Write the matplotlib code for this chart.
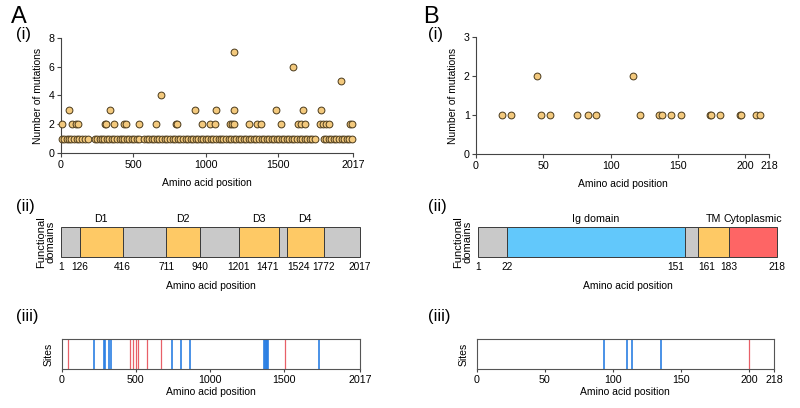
import matplotlib
matplotlib.use("Agg")
import matplotlib.pyplot as plt
import numpy as np

plt.rcParams["font.family"] = ["Liberation Sans", "DejaVu Sans"]
plt.rcParams["font.size"] = 7.5

# ---- Panel A data ----
A_LEN = 2017
a_pos_1 = [5, 20, 38, 55, 72, 90, 108, 126, 145, 165, 186, 232, 250, 266, 284, 300, 318, 334, 350,
           368, 386, 404, 420, 438, 455, 470, 488, 505, 522, 540, 576, 592, 610, 628, 645, 662,
           680, 700, 718, 735, 752, 770, 790, 808, 825, 842, 860, 878, 895, 912, 930, 948, 965,
           982, 1000, 1018, 1035, 1052, 1070, 1088, 1105, 1122, 1140, 1158, 1175, 1192, 1210,
           1228, 1245, 1262, 1280, 1298, 1315, 1332, 1350, 1368, 1385, 1402, 1420, 1438, 1455,
           1472, 1490, 1508, 1525, 1542, 1560, 1578, 1595, 1612, 1630, 1648, 1665, 1682, 1700,
           1718, 1735, 1752, 1815, 1832, 1850, 1868, 1885, 1902, 1920, 1938, 1955, 1972, 1990, 2008]
a_pos_2 = [8, 78, 106, 120, 302, 311, 368, 433, 448, 538, 654, 793, 802, 974, 1027, 1064,
           1168, 1182, 1198, 1301, 1357, 1382, 1518, 1640, 1659, 1686, 1792, 1808, 1827, 1854,
           1997, 2012]
a_pos_3 = [55, 335, 925, 1073, 1198, 1483, 1672, 1799]
a_pos_high = [693, 1937, 1601, 1198]
a_cnt_high = [4, 5, 6, 7]

a_dom_bounds = [1, 126, 416, 711, 940, 1201, 1471, 1524, 1772, 2017]
a_dom_names = ["", "D1", "", "D2", "", "D3", "", "D4", ""]
a_dom_kind = ["other", "dom", "other", "dom", "other", "dom", "other", "dom", "other"]

a_sites_blue = [218, 288, 295, 322, 333, 743, 806, 867, 1370, 1375, 1380, 1385, 1390, 1395, 1741]
a_sites_red = [43, 462, 484, 500, 516, 574, 669, 1507]

# ---- Panel B data ----
B_LEN = 218
b_pos = [19, 26, 45, 48, 55, 75, 83, 89, 117, 122, 136, 138, 145, 152, 174, 175, 181, 196, 197, 208, 211]
b_cnt = [1, 1, 2, 1, 1, 1, 1, 1, 2, 1, 1, 1, 1, 1, 1, 1, 1, 1, 1, 1, 1]

b_dom_bounds = [1, 22, 151, 161, 183, 218]
b_dom_names = ["", "Ig domain", "", "TM", "Cytoplasmic"]
b_dom_kind = ["other", "ig", "other", "tm", "cyto"]

b_sites_blue = [93, 110, 114, 135]
b_sites_red = [200]

DOM_COLORS = {"other": "#c9c9c9", "dom": "#fec965", "ig": "#62c8fb", "tm": "#fec965", "cyto": "#fe6565"}
DOT_FACE = "#f3c97d"
DOT_EDGE = "#4a3a1c"
BLUE = "#2b7fe3"
RED = "#e86068"
AXC = "#444444"
TICK_FS = 7.3
# boundary labels that sit too close to a neighbour get pushed sideways
LABEL_ALIGN = {1471: "right", 1524: "left", 151: "right", 161: "left"}

fig = plt.figure(figsize=(8.0, 4.08), dpi=100)


def style_scatter_ax(ax):
    for s in ["top", "right"]:
        ax.spines[s].set_visible(False)
    for s in ["left", "bottom"]:
        ax.spines[s].set_color(AXC)
        ax.spines[s].set_linewidth(0.8)
    ax.tick_params(length=3, width=0.8, color=AXC, pad=1.5, labelsize=TICK_FS + 0.4)


def scatter_panel(rect, xs, ys, length, xticks, ymax, yticks):
    ax = fig.add_axes(rect)
    ax.scatter(xs, ys, s=24, color=DOT_FACE, edgecolor=DOT_EDGE, linewidth=0.7, zorder=3, clip_on=False)
    ax.set_xlim(0, length)
    ax.set_ylim(0, ymax)
    ax.set_xticks(xticks)
    ax.set_yticks(yticks)
    ax.set_xlabel("Amino acid position", labelpad=6)
    ax.set_ylabel("Number of mutations", labelpad=4)
    style_scatter_ax(ax)
    return ax


def domain_panel(rect, bounds, names, kinds):
    ax = fig.add_axes(rect)
    starts = bounds[:-1]
    widths = np.diff(bounds)
    ax.barh(0.5, widths, left=starts, height=1.0, color=[DOM_COLORS[k] for k in kinds],
            edgecolor="#3a3a3a", linewidth=0.7, clip_on=False)
    for st, w, nm in zip(starts, widths, names):
        if nm:
            ax.text(st + w / 2, 1.1, nm, ha="center", va="bottom", fontsize=7.7)
    ax.set_xlim(bounds[0], bounds[-1])
    ax.set_ylim(0, 1)
    ax.set_xticks(bounds)
    labels = ax.set_xticklabels([str(b) for b in bounds])
    for b, lab in zip(bounds, labels):
        if b in LABEL_ALIGN:
            lab.set_ha(LABEL_ALIGN[b])
    ax.tick_params(axis="x", length=0, pad=4, labelsize=TICK_FS)
    ax.set_yticks([])
    for s in ax.spines.values():
        s.set_visible(False)
    ax.set_xlabel("Amino acid position", labelpad=6)
    ax.set_ylabel("Functional\ndomains", labelpad=4, linespacing=0.9, fontsize=8)
    return ax


def sites_panel(rect, blue, red, length, xticks):
    ax = fig.add_axes(rect)
    ax.vlines(blue, 0, 1, color=BLUE, linewidth=1.2)
    ax.vlines(red, 0, 1, color=RED, linewidth=0.9)
    ax.set_xlim(0, length)
    ax.set_ylim(0, 1)
    ax.set_xticks(xticks)
    ax.set_yticks([])
    for s in ax.spines.values():
        s.set_color("#555555")
        s.set_linewidth(0.8)
    ax.tick_params(axis="x", length=2.5, width=0.8, color=AXC, pad=2, labelsize=TICK_FS + 0.4)
    ax.set_xlabel("Amino acid position", labelpad=1)
    ax.set_ylabel("Sites", labelpad=6)
    return ax


# Panel A
a_x = a_pos_1 + a_pos_2 + a_pos_3 + a_pos_high
a_y = [1] * len(a_pos_1) + [2] * len(a_pos_2) + [3] * len(a_pos_3) + a_cnt_high
scatter_panel([0.0763, 0.6243, 0.3650, 0.2833], a_x, a_y, A_LEN, [0, 500, 1000, 1500, 2017], 8, [0, 2, 4, 6, 8])
domain_panel([0.0763, 0.3708, 0.3737, 0.0736], a_dom_bounds, a_dom_names, a_dom_kind)
sites_panel([0.0771, 0.0956, 0.3729, 0.0728], a_sites_blue, a_sites_red, A_LEN, [0, 500, 1000, 1500, 2017])

# Panel B
scatter_panel([0.5950, 0.6218, 0.3667, 0.2868], b_pos, b_cnt, B_LEN, [0, 50, 100, 150, 200, 218], 3, [0, 1, 2, 3])
domain_panel([0.5979, 0.3708, 0.3730, 0.0736], b_dom_bounds, b_dom_names, b_dom_kind)
sites_panel([0.5959, 0.0956, 0.3716, 0.0728], b_sites_blue, b_sites_red, B_LEN, [0, 50, 100, 150, 200, 218])

# panel letters and sub-labels
fig.text(11 / 800, 1 - 17 / 408, "A", fontsize=17, va="center", ha="left")
fig.text(423 / 800, 1 - 17 / 408, "B", fontsize=17, va="center", ha="left")
for xl in (16, 428):
    fig.text(xl / 800, 1 - 34 / 408, "(i)", fontsize=12, va="center", ha="left")
    fig.text(xl / 800, 1 - 207 / 408, "(ii)", fontsize=12, va="center", ha="left")
    fig.text(xl / 800, 1 - 316 / 408, "(iii)", fontsize=12, va="center", ha="left")

fig.savefig("out.png", dpi=100)
